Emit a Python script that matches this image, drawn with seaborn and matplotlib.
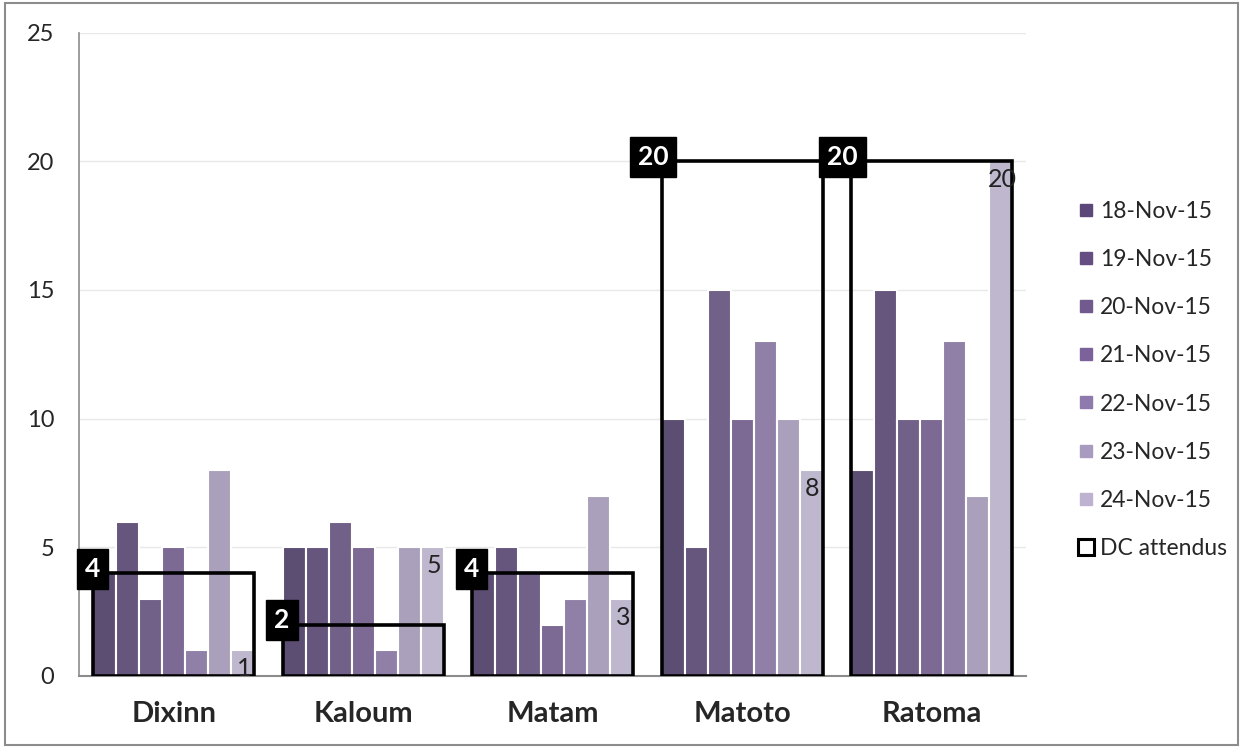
import pandas as pd
import numpy as np
import matplotlib
matplotlib.use("Agg")
import matplotlib.pyplot as plt
import seaborn as sns
from matplotlib.lines import Line2D

# data
districts = ['Dixinn', 'Kaloum', 'Matam', 'Matoto', 'Ratoma']
dates = ['18-Nov-15', '19-Nov-15', '20-Nov-15', '21-Nov-15', '22-Nov-15', '23-Nov-15', '24-Nov-15']
d18 = [4, 5, 4, 10, 8]
d19 = [6, 5, 5, 5, 15]
d20 = [3, 6, 4, 15, 10]
d21 = [5, 5, 2, 10, 10]
d22 = [1, 1, 3, 13, 13]
d23 = [8, 5, 7, 10, 7]
d24 = [1, 5, 3, 8, 20]
dc_attendus = [4, 2, 4, 20, 20]

colors = ['#5b4878', '#654f82', '#705a8e', '#7b629b', '#8f7aad', '#a99bc0', '#bdb3d1']

series = [d18, d19, d20, d21, d22, d23, d24]
rows = []
for date, vals in zip(dates, series):
    for dist, v in zip(districts, vals):
        rows.append({'district': dist, 'date': date, 'n': v})
df = pd.DataFrame(rows)
df_dc = pd.DataFrame({'district': districts, 'dc': dc_attendus})

sns.set_theme(style='white')
plt.rcParams['font.family'] = ['Lato', 'DejaVu Sans']

fig = plt.figure(figsize=(12.43, 7.48), dpi=100)
ax = fig.add_axes([0.0636, 0.0963, 0.762, 0.86])

W = 0.85
sns.barplot(data=df, x='district', y='n', hue='date', palette=colors, width=W,
            edgecolor='white', linewidth=1.5, ax=ax, legend=False, zorder=2)
sns.barplot(data=df_dc, x='district', y='dc', fill=False, color='black', width=W,
            linewidth=2.6, ax=ax, zorder=4)

# labels on last series
for i, v in enumerate(d24):
    x = i + W / 2 - W / 14
    ax.annotate(str(v), (x, v), xytext=(1, -5), textcoords='offset points',
                ha='center', va='top', fontsize=18, color='#222222', zorder=5)

# DC labels
for i, v in enumerate(dc_attendus):
    ax.annotate(str(v), (i - W / 2, v), xytext=(5, 3), textcoords='offset points',
                ha='right', va='center', fontsize=19, fontweight='bold', color='white',
                bbox=dict(boxstyle='square,pad=0.3', fc='black', ec='black'), zorder=6)

ax.set_ylim(0, 25)
ax.set_xlim(-0.5, 4.5)
ax.set_yticks([0, 5, 10, 15, 20, 25])
ax.yaxis.grid(True, color='#e8e8e8', linewidth=1)
ax.set_axisbelow(True)
ax.set_xlabel('')
ax.set_ylabel('')
ax.tick_params(axis='y', labelsize=17, length=0, pad=18)
ax.tick_params(axis='x', labelsize=21, length=0, pad=18)
for lbl in ax.get_xticklabels():
    lbl.set_fontweight('bold')
sns.despine(ax=ax, top=True, right=True)
ax.spines['left'].set_color('#8c8c8c')
ax.spines['bottom'].set_color('#8c8c8c')
ax.spines['left'].set_linewidth(1.2)
ax.spines['bottom'].set_linewidth(1.5)

handles = [Line2D([], [], marker='s', linestyle='', markersize=9, markerfacecolor=c,
                  markeredgecolor=c) for c in colors]
handles.append(Line2D([], [], marker='s', linestyle='', markersize=12, markerfacecolor='white',
                      markeredgecolor='black', markeredgewidth=2.2))
fig.legend(handles, dates + ['DC attendus'], loc='center left', bbox_to_anchor=(0.848, 0.492),
           frameon=False, fontsize=16.5, handletextpad=0.1, labelspacing=1.18, handlelength=1.0)

# outer frame
fig.patches.append(plt.Rectangle((0.004, 0.004), 0.992, 0.992, transform=fig.transFigure,
                                 fill=False, edgecolor='#8c8c8c', linewidth=1.5))

fig.savefig('out.png', dpi=100)
